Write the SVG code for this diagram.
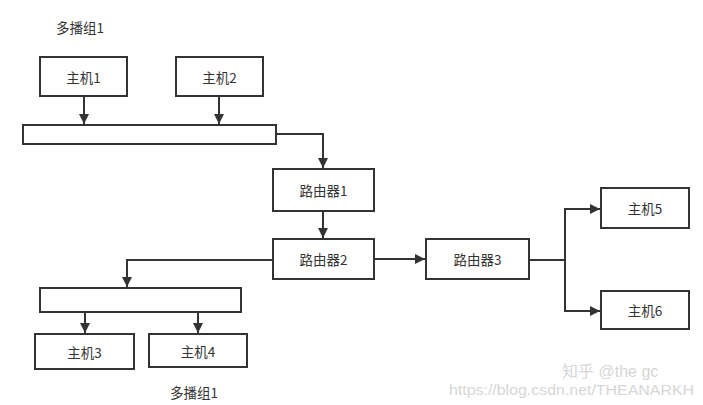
<svg xmlns="http://www.w3.org/2000/svg" width="703" height="405" viewBox="0 0 703 405">
<style>
.box{fill:#fff;stroke:#333;stroke-width:2}
.t{font-family:"Noto Sans CJK SC","Liberation Sans",sans-serif;font-size:13.5px;fill:#333;text-anchor:middle;dominant-baseline:central}
.c{fill:none;stroke:#333;stroke-width:2}
.wm{font-family:"Liberation Sans","Noto Sans CJK SC",sans-serif;fill:#d6d6d6}
</style>
<defs>
<marker id="a" viewBox="0 0 10 10" refX="10" refY="5" markerWidth="5" markerHeight="5" orient="auto" markerUnits="strokeWidth">
<path d="M0,0 L10,5 L0,10 z" fill="#333"/>
</marker>
</defs>
<rect width="703" height="405" fill="#fff"/>
<text class="t" x="80" y="27">多播组1</text>
<text class="t" x="194" y="392">多播组1</text>
<g id="bus1"><rect class="box" x="23" y="125" width="253" height="19"/></g>
<g id="bus2"><rect class="box" x="40" y="288" width="201" height="24"/></g>
<g id="h1"><rect class="box" x="40" y="57" width="87" height="39"/><text class="t" x="83.5" y="76.5">主机1</text></g>
<g id="h2"><rect class="box" x="176" y="57" width="87" height="39"/><text class="t" x="219.5" y="76.5">主机2</text></g>
<g id="r1"><rect class="box" x="273" y="169" width="101" height="42"/><text class="t" x="323.5" y="190">路由器1</text></g>
<g id="r2"><rect class="box" x="273" y="239" width="101" height="40"/><text class="t" x="323.5" y="259">路由器2</text></g>
<g id="r3"><rect class="box" x="426" y="239" width="103" height="40"/><text class="t" x="477.5" y="259">路由器3</text></g>
<g id="h5"><rect class="box" x="601" y="188" width="88" height="40"/><text class="t" x="645" y="208">主机5</text></g>
<g id="h6"><rect class="box" x="601" y="291" width="88" height="38"/><text class="t" x="645" y="310">主机6</text></g>
<g id="h3"><rect class="box" x="35" y="334" width="99" height="35"/><text class="t" x="84.5" y="351.5">主机3</text></g>
<g id="h4"><rect class="box" x="149" y="334" width="98" height="33"/><text class="t" x="198" y="350.5">主机4</text></g>
<g id="connectors">
<path class="c" d="M84,96 V124" marker-end="url(#a)"/>
<path class="c" d="M219,96 V124" marker-end="url(#a)"/>
<path class="c" d="M276,134 H323 V168" marker-end="url(#a)"/>
<path class="c" d="M323,211 V238" marker-end="url(#a)"/>
<path class="c" d="M374,259 H425" marker-end="url(#a)"/>
<path class="c" d="M529,260 H565"/>
<path class="c" d="M565,260 V209 H600" marker-end="url(#a)"/>
<path class="c" d="M565,260 V311 H600" marker-end="url(#a)"/>
<path class="c" d="M273,260 H127 V287" marker-end="url(#a)"/>
<path class="c" d="M85,312 V333" marker-end="url(#a)"/>
<path class="c" d="M198,312 V333" marker-end="url(#a)"/>
</g>
<text class="wm" x="562" y="377" font-size="16">知乎 @the gc</text>
<text class="wm" x="449" y="395" font-size="14" textLength="245" lengthAdjust="spacingAndGlyphs">https://blog.csdn.net/THEANARKH</text>
</svg>
